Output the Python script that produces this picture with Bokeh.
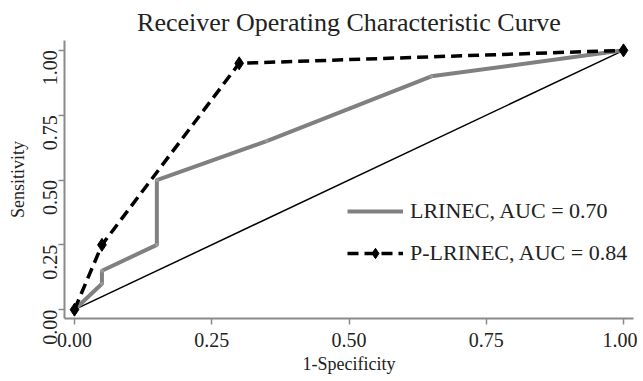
import math
from bokeh.plotting import figure
from bokeh.models import Range1d, FixedTicker, NumeralTickFormatter, Legend, LegendItem
from bokeh.embed import file_html
from bokeh.resources import INLINE

# Data
lr_x = [0.0, 0.05, 0.05, 0.15, 0.15, 0.35, 0.65, 1.0]
lr_y = [0.0, 0.10, 0.15, 0.25, 0.50, 0.65, 0.90, 1.0]
plr_x = [0.0, 0.05, 0.30, 1.0]
plr_y = [0.0, 0.25, 0.95, 1.0]
ref_x = [0.0, 1.0]
ref_y = [0.0, 1.0]
ticks = [0.0, 0.25, 0.5, 0.75, 1.0]
lr_label = "LRINEC, AUC = 0.70"
plr_label = "P-LRINEC, AUC = 0.84"

FONT = "Liberation Serif"

p = figure(width=637, height=376, output_backend="svg", toolbar_location=None,
           x_range=Range1d(-0.0182, 1.0182), y_range=Range1d(-0.034, 1.038),
           title="Receiver Operating Characteristic Curve",
           min_border_left=64, min_border_right=4, min_border_top=40, min_border_bottom=54)
p.outline_line_color = None
p.xgrid.visible = False
p.ygrid.visible = False

p.title.text_font = FONT
p.title.text_font_size = "26px"
p.title.text_font_style = "normal"
p.title.align = "center"
p.title.text_color = "#222222"
p.title.standoff = 8

for ax in (p.xaxis[0], p.yaxis[0]):
    ax.ticker = FixedTicker(ticks=ticks)
    ax.formatter = NumeralTickFormatter(format="0.00")
    ax.axis_line_color = "#8a8a8a"
    ax.axis_line_width = 2
    ax.major_tick_line_color = "#8a8a8a"
    ax.major_tick_line_width = 1.5
    ax.major_tick_out = 6
    ax.major_tick_in = 0
    ax.minor_tick_line_color = None
    ax.major_label_text_font = FONT
    ax.major_label_text_font_size = "20px"
    ax.major_label_text_color = "#222222"
    ax.axis_label_text_font = FONT
    ax.axis_label_text_font_size = "18px"
    ax.axis_label_text_font_style = "normal"
    ax.axis_label_text_color = "#222222"

p.xaxis.axis_label = "1-Specificity"
p.yaxis.axis_label = "Sensitivity"
p.yaxis.major_label_orientation = math.pi / 2
p.xaxis.major_label_standoff = 8
p.yaxis.major_label_standoff = 8
p.xaxis.axis_label_standoff = 4
p.yaxis.axis_label_standoff = 6

p.line(ref_x, ref_y, line_color="black", line_width=1.5)

r1 = p.line(lr_x, lr_y, line_color="#808080", line_width=4)
p.scatter(lr_x, lr_y, marker="circle", size=3, color="#999999")

r2 = p.line(plr_x, plr_y, line_color="black", line_width=3.5, line_dash="11 6")
r2m = p.scatter(plr_x, plr_y, marker="diamond", size=13, color="black")

legend = Legend(items=[LegendItem(label=lr_label, renderers=[r1]),
                       LegendItem(label=plr_label, renderers=[r2, r2m])],
                location=(283, 52))
legend.border_line_color = None
legend.background_fill_alpha = 0
legend.padding = 0
legend.margin = 0
legend.glyph_width = 56
legend.glyph_height = 26
legend.label_height = 26
legend.label_standoff = 7
legend.spacing = 16
legend.label_text_font = FONT
legend.label_text_font_size = "22px"
legend.label_text_color = "#222222"
p.add_layout(legend, "center")

open("out.html", "w").write(file_html(p, INLINE))
